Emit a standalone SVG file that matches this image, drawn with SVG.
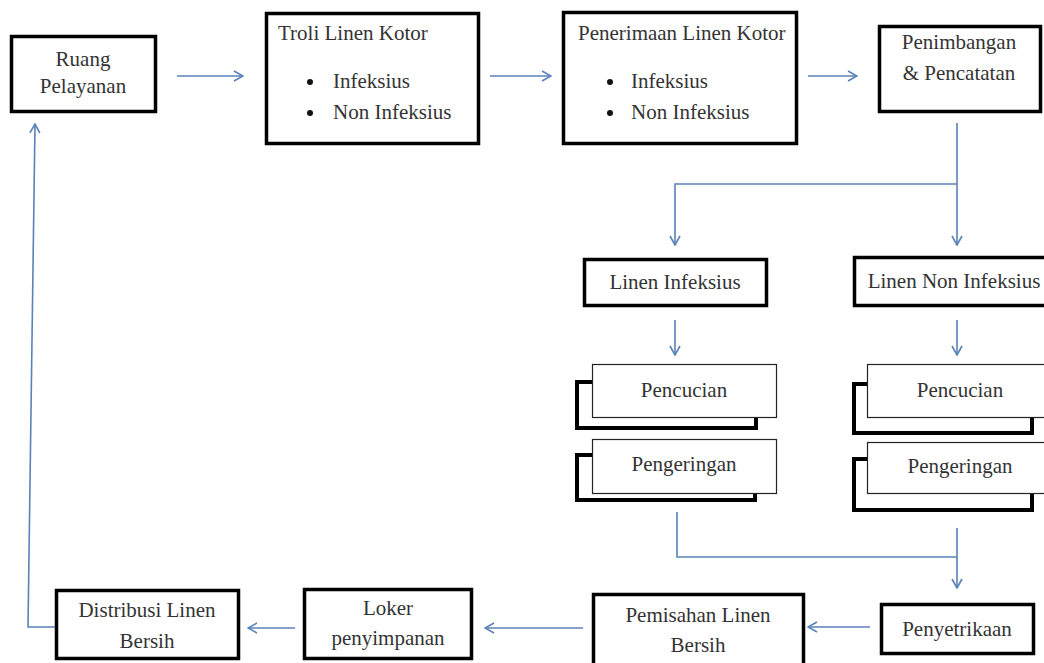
<svg xmlns="http://www.w3.org/2000/svg" width="1044" height="663" viewBox="0 0 1044 663">
<style>
.box{fill:#fff;stroke:#000;stroke-width:3.5}
.back{fill:#fff;stroke:#000;stroke-width:4}
.front{fill:#fff;stroke:#222;stroke-width:1.2}
text{font-family:"Liberation Serif","Times New Roman",serif;font-size:21px;fill:#333}
.c{text-anchor:middle}
.con{fill:none;stroke:#5a82b8;stroke-width:1.6}
.arr{marker-end:url(#ah)}
</style>
<defs>
<marker id="ah" viewBox="0 0 12 12" refX="11" refY="6" markerWidth="12" markerHeight="12" markerUnits="userSpaceOnUse" orient="auto">
<path d="M2,1 L11,6 L2,11" fill="none" stroke="#5a82b8" stroke-width="1.6"/>
</marker>
</defs>
<rect width="1044" height="663" fill="#fff"/>
<g id="connectors">
<path class="con arr" d="M177,76 H243"/>
<path class="con arr" d="M490,76 H551"/>
<path class="con arr" d="M808,76 H857"/>
<path class="con arr" d="M957,123 V245"/>
<path class="con arr" d="M957,184 H675 V245"/>
<path class="con arr" d="M675,320 V355"/>
<path class="con arr" d="M957,320 V355"/>
<path class="con" d="M677,512 V557 H957"/>
<path class="con arr" d="M957,528 V588"/>
<path class="con arr" d="M870,627 H808"/>
<path class="con arr" d="M583,628 H485"/>
<path class="con arr" d="M295,628 H248"/>
<path class="con arr" d="M55,627 H28 L35,124"/>
</g>
<g id="ruang">
<rect class="box" x="11.5" y="36.5" width="144" height="75"/>
<text class="c" x="83" y="66">Ruang</text>
<text class="c" x="83" y="93">Pelayanan</text>
</g>
<g id="troli">
<rect class="box" x="266.5" y="13.5" width="212" height="130"/>
<text x="278" y="40">Troli Linen Kotor</text>
<circle cx="310" cy="82" r="3" fill="#111"/>
<text x="333" y="88">Infeksius</text>
<circle cx="310" cy="113" r="3" fill="#111"/>
<text x="333" y="119">Non Infeksius</text>
</g>
<g id="penerimaan">
<rect class="box" x="563.5" y="12.5" width="233" height="131"/>
<text x="578" y="40">Penerimaan Linen Kotor</text>
<circle cx="610" cy="82" r="3" fill="#111"/>
<text x="631" y="88">Infeksius</text>
<circle cx="610" cy="113" r="3" fill="#111"/>
<text x="631" y="119">Non Infeksius</text>
</g>
<g id="penimbangan">
<rect class="box" x="879.5" y="26.5" width="161" height="85"/>
<text class="c" x="959" y="49">Penimbangan</text>
<text class="c" x="959" y="80">&amp; Pencatatan</text>
</g>
<g id="linen-infeksius">
<rect class="box" x="584.5" y="259.5" width="182" height="46"/>
<text class="c" x="675" y="289">Linen Infeksius</text>
</g>
<g id="linen-non-infeksius">
<rect class="box" x="854.5" y="257.5" width="195" height="48"/>
<text class="c" x="954" y="288">Linen Non Infeksius</text>
</g>
<g id="pencucian-1">
<rect class="back" x="577" y="382" width="179" height="46"/>
<rect class="front" x="592.5" y="364.5" width="184" height="53"/>
<text class="c" x="684" y="397">Pencucian</text>
</g>
<g id="pengeringan-1">
<rect class="back" x="577" y="455" width="178" height="45"/>
<rect class="front" x="592.5" y="439.5" width="184" height="54"/>
<text class="c" x="684" y="471">Pengeringan</text>
</g>
<g id="pencucian-2">
<rect class="back" x="854" y="384" width="178" height="49"/>
<rect class="front" x="867.5" y="364.5" width="180" height="53"/>
<text class="c" x="960" y="397">Pencucian</text>
</g>
<g id="pengeringan-2">
<rect class="back" x="854" y="459" width="178" height="51"/>
<rect class="front" x="867.5" y="442.5" width="180" height="51"/>
<text class="c" x="960" y="473">Pengeringan</text>
</g>
<g id="penyetrikaan">
<rect class="box" x="881.5" y="604.5" width="152" height="49"/>
<text class="c" x="957" y="636">Penyetrikaan</text>
</g>
<g id="pemisahan">
<rect class="box" x="593.5" y="594.5" width="210" height="75"/>
<text class="c" x="698" y="622">Pemisahan Linen</text>
<text class="c" x="698" y="652">Bersih</text>
</g>
<g id="loker">
<rect class="box" x="304.5" y="589.5" width="167" height="69"/>
<text class="c" x="388" y="615">Loker</text>
<text class="c" x="388" y="645">penyimpanan</text>
</g>
<g id="distribusi">
<rect class="box" x="56.5" y="590.5" width="182" height="68"/>
<text class="c" x="147" y="617">Distribusi Linen</text>
<text class="c" x="147" y="648">Bersih</text>
</g>
</svg>
